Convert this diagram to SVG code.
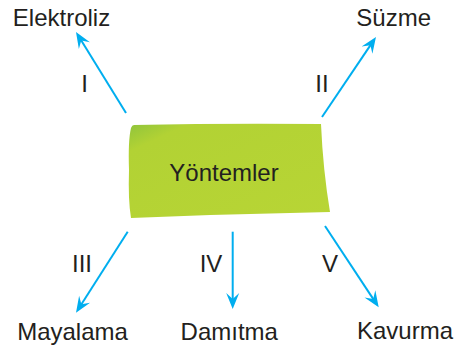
<svg xmlns="http://www.w3.org/2000/svg" width="458" height="346" viewBox="0 0 458 346">
  <style>
    .lbl { font-family: "Liberation Sans", Arial, sans-serif; font-size: 24px; fill: #231f20; text-anchor: middle; }
    .conn { stroke: #00aeef; stroke-width: 2; fill: none; marker-end: url(#ah); }
  </style>
  <defs>
    <marker id="ah" markerUnits="userSpaceOnUse" viewBox="-17 -8 18 16" markerWidth="18" markerHeight="16" refX="-8" refY="0" orient="auto">
      <path d="M0,0 L-16,-6.5 L-10,0 L-16,6.5 Z" fill="#00aeef"/>
    </marker>
    <linearGradient id="g" x1="0" y1="0" x2="1" y2="1" gradientUnits="objectBoundingBox">
      <stop offset="0" stop-color="#8fc43c"/>
      <stop offset="0.15" stop-color="#b2d234"/>
      <stop offset="1" stop-color="#b8d535"/>
    </linearGradient>
  </defs>
  <rect width="458" height="346" fill="#ffffff"/>

  <g id="connectors">
    <line class="conn" x1="126" y1="113" x2="80.2" y2="38.8"/>
    <line class="conn" x1="322" y1="117" x2="371.5" y2="43.6"/>
    <line class="conn" x1="127.7" y1="231.7" x2="80.3" y2="306"/>
    <line class="conn" x1="232.7" y1="231.7" x2="232.7" y2="301"/>
    <line class="conn" x1="325" y1="226" x2="374.3" y2="300.6"/>
  </g>

  <g id="yontemler">
    <path d="M134,125 Q226,123 321,124 Q323,170 330,212 Q230,214 131,218 Q128,200 129,170 Q128,140 131,128 Q132,125 134,125 Z" fill="url(#g)"/>
    <text class="lbl" x="224" y="181">Yöntemler</text>
  </g>

  <g id="elektroliz"><text class="lbl" x="61.5" y="26">Elektroliz</text></g>
  <g id="suzme"><text class="lbl" x="393.7" y="26">Süzme</text></g>
  <g id="mayalama"><text class="lbl" x="72.5" y="340">Mayalama</text></g>
  <g id="damitma"><text class="lbl" x="229.3" y="339.5">Damıtma</text></g>
  <g id="kavurma"><text class="lbl" x="405" y="339">Kavurma</text></g>

  <g id="labels">
    <text class="lbl" x="84.5" y="92">I</text>
    <text class="lbl" x="322" y="92">II</text>
    <text class="lbl" x="82" y="272.3">III</text>
    <text class="lbl" x="211" y="272.3">IV</text>
    <text class="lbl" x="330" y="272">V</text>
  </g>
</svg>
